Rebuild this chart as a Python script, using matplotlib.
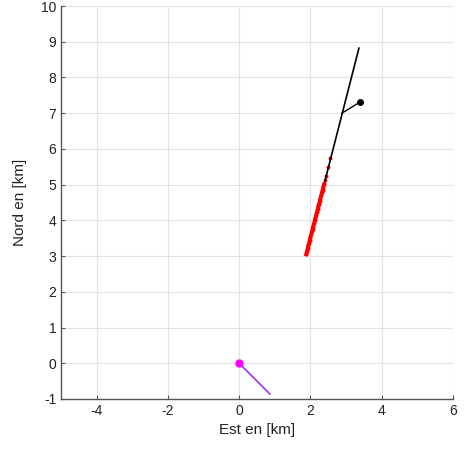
import matplotlib
matplotlib.use('Agg')
import matplotlib.pyplot as plt

plt.rcParams['font.family'] = ['Liberation Sans', 'DejaVu Sans']
plt.rcParams['axes.unicode_minus'] = False

# trajectory (black)
track_e = [1.88, 3.36]
track_n = [3.05, 8.82]
# branch to final point
branch_e = [2.88, 3.39]
branch_n = [7.00, 7.31]
# red detections, dense part
det_e = [1.88, 1.90, 1.92, 1.94, 1.96, 1.98, 2.00, 2.02, 2.04, 2.06, 2.08, 2.10,
         2.12, 2.14, 2.16, 2.18, 2.20, 2.22, 2.24, 2.26, 2.28, 2.30, 2.32, 2.34,
         2.36, 2.38]
det_n = [3.05, 3.14, 3.22, 3.30, 3.38, 3.46, 3.53, 3.61, 3.69, 3.77, 3.85, 3.92,
         4.00, 4.08, 4.16, 4.23, 4.31, 4.39, 4.47, 4.55, 4.62, 4.70, 4.78, 4.86,
         4.94, 5.01]
# sparse detections further up
sparse_e = [2.41, 2.44, 2.50, 2.56]
sparse_n = [5.12, 5.24, 5.50, 5.74]
# origin and heading
orig_e = [0.0]
orig_n = [0.0]
head_e = [0.0, 0.86]
head_n = [0.0, -0.86]

fig = plt.figure(figsize=(4.65, 4.54), dpi=100)
ax = fig.add_axes([61/465, 55/454, 392/465, 393/454])

ax.plot(track_e, track_n, color='black', lw=1.2, zorder=3)
ax.plot(det_e, det_n, 'o', color='red', ms=2.0, mec='red', lw=0, zorder=4)
ax.plot(det_e, det_n, color='red', lw=2.6, zorder=3.5)
ax.plot(sparse_e, sparse_n, 'o', color='red', ms=1.8, lw=0, zorder=2.5)
ax.plot(branch_e, branch_n, color='black', lw=1, zorder=3)
ax.plot(branch_e[-1:], branch_n[-1:], 'o', color='black', ms=4, zorder=5)
ax.plot(head_e, head_n, color='#a030f0', lw=1.2, zorder=3)
ax.plot(orig_e, orig_n, 'o', color='#ff00ff', ms=5, zorder=5)

ax.set_xlim(-5, 6)
ax.set_ylim(-1, 10)
ax.set_xticks([-4, -2, 0, 2, 4, 6])
ax.set_yticks(range(-1, 11))
ax.grid(True, color='#e3e3e3', lw=0.8)
ax.set_axisbelow(True)
for s in ['top', 'right']:
    ax.spines[s].set_visible(False)
for s in ['left', 'bottom']:
    ax.spines[s].set_color('#555555')
    ax.spines[s].set_linewidth(1.0)
ax.tick_params(direction='in', length=3, color='#555555', labelsize=10, labelcolor='#222222')
ax.set_xlabel('Est en [km]', fontsize=11, color='#222222', labelpad=4)
ax.set_ylabel('Nord en [km]', fontsize=11, color='#222222', labelpad=10)

fig.savefig('out.png', dpi=100)
